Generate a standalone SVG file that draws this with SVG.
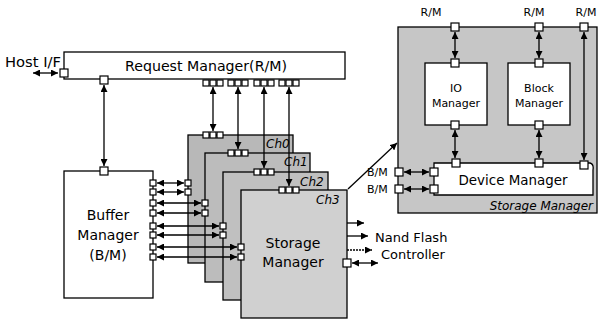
<svg xmlns="http://www.w3.org/2000/svg" width="601" height="323" viewBox="0 0 601 323">
<style>
.b{fill:#fff;stroke:#000;stroke-width:1.3}
.p{fill:#fff;stroke:#000;stroke-width:1.2}
.l{fill:none;stroke:#000;stroke-width:1.3}
.t{font-family:"DejaVu Sans","Liberation Sans",sans-serif;font-size:13px;fill:#000}
.m{font-family:"DejaVu Sans","Liberation Sans",sans-serif;font-size:14px;fill:#000}
.i{font-family:"DejaVu Sans","Liberation Sans",sans-serif;font-size:12px;font-style:italic;fill:#000}
.s{font-family:"DejaVu Sans","Liberation Sans",sans-serif;font-size:11px;fill:#000}
</style>
<defs>
<marker id="a" viewBox="0 0 10 10" refX="10" refY="5" markerWidth="7" markerHeight="7" markerUnits="userSpaceOnUse" orient="auto-start-reverse"><path d="M0,0 L10,5 L0,10 z" fill="#000"/></marker>
</defs>
<rect width="601" height="323" fill="#fff"/>

<g id="request-manager">
<rect class="b" x="64" y="52" width="281" height="27"/>
<text class="m" x="206" y="71" text-anchor="middle" textLength="162" lengthAdjust="spacingAndGlyphs">Request Manager(R/M)</text>
<rect class="p" x="60" y="69" width="8" height="8"/>
<rect class="p" x="100" y="76" width="8" height="8"/>
<g>
<rect class="p" x="203" y="80" width="6" height="6"/><rect class="p" x="210" y="80" width="6" height="6"/><rect class="p" x="217" y="80" width="6" height="6"/>
<rect class="p" x="228" y="80" width="6" height="6"/><rect class="p" x="235" y="80" width="6" height="6"/><rect class="p" x="242" y="80" width="6" height="6"/>
<rect class="p" x="254" y="80" width="6" height="6"/><rect class="p" x="261" y="80" width="6" height="6"/><rect class="p" x="268" y="80" width="6" height="6"/>
<rect class="p" x="279" y="80" width="6" height="6"/><rect class="p" x="286" y="80" width="6" height="6"/><rect class="p" x="293" y="80" width="6" height="6"/>
</g>
</g>
<text id="host-if" class="m" x="5" y="67" textLength="56" lengthAdjust="spacingAndGlyphs">Host I/F</text>

<g id="buffer-manager">
<rect class="b" x="64" y="171" width="89" height="127"/>
<text class="m" x="108" y="220" text-anchor="middle">Buffer</text>
<text class="m" x="108" y="240" text-anchor="middle">Manager</text>
<text class="m" x="108" y="260" text-anchor="middle">(B/M)</text>
<rect class="p" x="100" y="167" width="8" height="8"/>
<rect class="p" x="150" y="180" width="6" height="6"/><rect class="p" x="150" y="189" width="6" height="6"/>
<rect class="p" x="150" y="200" width="6" height="6"/><rect class="p" x="150" y="210" width="6" height="6"/>
<rect class="p" x="150" y="223" width="6" height="6"/><rect class="p" x="150" y="232" width="6" height="6"/>
<rect class="p" x="150" y="244" width="6" height="6"/><rect class="p" x="150" y="254" width="6" height="6"/>
</g>

<g id="ch0">
<rect x="188" y="135" width="105" height="128" fill="#b8b8b8" stroke="#000" stroke-width="1.3"/>
<text class="i" x="266" y="148">Ch0</text>
<rect class="p" x="203" y="132" width="6" height="6"/><rect class="p" x="210" y="132" width="6" height="6"/><rect class="p" x="217" y="132" width="6" height="6"/>
<rect class="p" x="185" y="180" width="6" height="6"/><rect class="p" x="185" y="189" width="6" height="6"/>
</g>
<g id="ch1">
<rect x="205" y="153" width="105" height="129" fill="#bcbcbc" stroke="#000" stroke-width="1.3"/>
<text class="i" x="284" y="166">Ch1</text>
<rect class="p" x="228" y="150" width="6" height="6"/><rect class="p" x="235" y="150" width="6" height="6"/><rect class="p" x="242" y="150" width="6" height="6"/>
<rect class="p" x="202" y="200" width="6" height="6"/><rect class="p" x="202" y="210" width="6" height="6"/>
</g>
<g id="ch2">
<rect x="223" y="172" width="105" height="128" fill="#c0c0c0" stroke="#000" stroke-width="1.3"/>
<text class="i" x="300" y="186">Ch2</text>
<rect class="p" x="254" y="169" width="6" height="6"/><rect class="p" x="261" y="169" width="6" height="6"/><rect class="p" x="268" y="169" width="6" height="6"/>
<rect class="p" x="220" y="223" width="6" height="6"/><rect class="p" x="220" y="232" width="6" height="6"/>
</g>
<g id="ch3-storage-manager">
<rect x="241" y="190" width="106" height="128" fill="#d0d0d0" stroke="#000" stroke-width="1.3"/>
<text class="i" x="316" y="204">Ch3</text>
<text class="m" x="293" y="248" text-anchor="middle">Storage</text>
<text class="m" x="293" y="267" text-anchor="middle">Manager</text>
<rect class="p" x="279" y="187" width="6" height="6"/><rect class="p" x="286" y="187" width="6" height="6"/><rect class="p" x="293" y="187" width="6" height="6"/>
<rect class="p" x="238" y="244" width="6" height="6"/><rect class="p" x="238" y="254" width="6" height="6"/>
<rect class="p" x="343" y="259" width="8" height="8"/>
</g>
<text id="nand-flash" class="t" x="375" y="242">Nand Flash</text>
<text id="controller" class="t" x="381" y="259">Controller</text>

<g id="storage-manager-detail">
<rect x="398" y="27" width="199" height="186" fill="#c6c6c6" stroke="#000" stroke-width="1.3"/>
<text class="i" x="593" y="210" text-anchor="end">Storage Manager</text>
<text class="s" x="431" y="16" text-anchor="middle">R/M</text>
<text class="s" x="534" y="16" text-anchor="middle">R/M</text>
<text class="s" x="586" y="16" text-anchor="middle">R/M</text>
<rect class="p" x="451" y="23" width="8" height="8"/>
<rect class="p" x="535" y="23" width="8" height="8"/>
<rect class="p" x="580" y="23" width="8" height="8"/>
<text class="s" x="367" y="176">B/M</text>
<text class="s" x="367" y="193">B/M</text>
<rect class="p" x="395" y="168" width="8" height="8"/>
<rect class="p" x="395" y="185" width="8" height="8"/>
</g>
<g id="io-manager">
<rect class="b" x="425" y="63" width="62" height="62"/>
<text class="s" x="456" y="92" text-anchor="middle">IO</text>
<text class="s" x="456" y="107" text-anchor="middle">Manager</text>
<rect class="p" x="451" y="59" width="8" height="8"/>
<rect class="p" x="451" y="121" width="8" height="8"/>
</g>
<g id="block-manager">
<rect class="b" x="508" y="63" width="62" height="62"/>
<text class="s" x="539" y="92" text-anchor="middle">Block</text>
<text class="s" x="539" y="107" text-anchor="middle">Manager</text>
<rect class="p" x="535" y="59" width="8" height="8"/>
<rect class="p" x="535" y="121" width="8" height="8"/>
</g>
<g id="device-manager">
<path class="b" d="M434,163 H590 Q594,164 593,170 V195 H434 Z"/>
<text class="m" x="513" y="185" text-anchor="middle" textLength="109" lengthAdjust="spacingAndGlyphs">Device Manager</text>
<rect class="p" x="452" y="159" width="8" height="8"/>
<rect class="p" x="535" y="159" width="8" height="8"/>
<rect class="p" x="580" y="161" width="8" height="8"/>
<rect class="p" x="430" y="168" width="8" height="8"/>
<rect class="p" x="430" y="185" width="8" height="8"/>
</g>

<g id="connectors">
<line class="l" x1="58" y1="73" x2="33" y2="73" marker-start="url(#a)" marker-end="url(#a)"/>
<line class="l" x1="104" y1="85" x2="104" y2="166" marker-start="url(#a)" marker-end="url(#a)"/>
<line class="l" x1="213" y1="87" x2="213" y2="131" marker-start="url(#a)" marker-end="url(#a)"/>
<line class="l" x1="238" y1="87" x2="238" y2="149" marker-start="url(#a)" marker-end="url(#a)"/>
<line class="l" x1="264" y1="87" x2="264" y2="168" marker-start="url(#a)" marker-end="url(#a)"/>
<line class="l" x1="289" y1="87" x2="289" y2="186" marker-start="url(#a)" marker-end="url(#a)"/>
<line class="l" x1="157" y1="183" x2="184" y2="183" marker-start="url(#a)" marker-end="url(#a)"/>
<line class="l" x1="157" y1="192" x2="184" y2="192" marker-start="url(#a)" marker-end="url(#a)"/>
<line class="l" x1="157" y1="203" x2="201" y2="203" marker-start="url(#a)" marker-end="url(#a)"/>
<line class="l" x1="157" y1="213" x2="201" y2="213" marker-start="url(#a)" marker-end="url(#a)"/>
<line class="l" x1="157" y1="226" x2="219" y2="226" marker-start="url(#a)" marker-end="url(#a)"/>
<line class="l" x1="157" y1="235" x2="219" y2="235" marker-start="url(#a)" marker-end="url(#a)"/>
<line class="l" x1="157" y1="247" x2="237" y2="247" marker-start="url(#a)" marker-end="url(#a)"/>
<line class="l" x1="157" y1="257" x2="237" y2="257" marker-start="url(#a)" marker-end="url(#a)"/>
<line class="l" x1="347" y1="223" x2="364" y2="223" marker-end="url(#a)"/>
<line class="l" x1="347" y1="236" x2="368" y2="236" marker-end="url(#a)"/>
<line class="l" x1="347" y1="250" x2="372" y2="250" stroke-dasharray="2 1" marker-end="url(#a)"/>
<line class="l" x1="352" y1="263" x2="378" y2="263" marker-start="url(#a)" marker-end="url(#a)"/>
<line class="l" x1="348" y1="189" x2="397" y2="143" marker-end="url(#a)"/>
<line class="l" x1="455" y1="32" x2="455" y2="58" marker-start="url(#a)" marker-end="url(#a)"/>
<line class="l" x1="539" y1="32" x2="539" y2="58" marker-start="url(#a)" marker-end="url(#a)"/>
<line class="l" x1="584" y1="32" x2="584" y2="160" marker-start="url(#a)" marker-end="url(#a)"/>
<line class="l" x1="455" y1="130" x2="455" y2="158" marker-start="url(#a)" marker-end="url(#a)"/>
<line class="l" x1="539" y1="130" x2="539" y2="158" marker-start="url(#a)" marker-end="url(#a)"/>
<line class="l" x1="404" y1="172" x2="429" y2="172" marker-start="url(#a)" marker-end="url(#a)"/>
<line class="l" x1="404" y1="189" x2="429" y2="189" marker-start="url(#a)" marker-end="url(#a)"/>
</g>
</svg>
